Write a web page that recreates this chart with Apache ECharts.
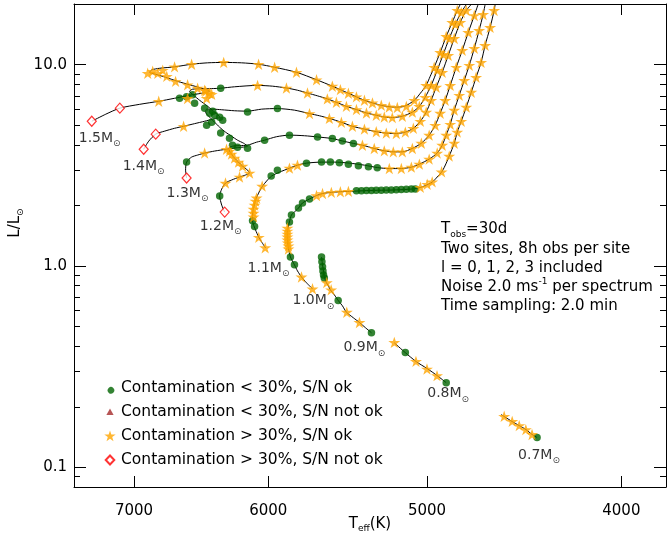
<!DOCTYPE html>
<html><head><meta charset="utf-8">
<script src="https://cdn.jsdelivr.net/npm/echarts@6/dist/echarts.min.js"></script>
<style>html,body{margin:0;padding:0;background:#fff}#c{width:667px;height:537px}</style>
</head><body><div id="c"></div>
<script>
// Values are [log10 Teff (K), log10 L/Lsun]
const massNames = ['0.7','0.8','0.9','1.0','1.1','1.2','1.3','1.4','1.5'];
const track07 = [[3.6441,-0.851],[3.6466,-0.836],[3.6496,-0.812],[3.6530,-0.792],[3.6565,-0.772],[3.6605,-0.747],[3.6620,-0.737]];
const track08 = [[3.6894,-0.579],[3.6939,-0.544],[3.6989,-0.509],[3.7043,-0.475],[3.7098,-0.430],[3.7153,-0.381]];
const track09 = [[3.7267,-0.331],[3.7297,-0.306],[3.7327,-0.280],[3.7357,-0.257],[3.7392,-0.229],[3.7412,-0.197],[3.7432,-0.172],[3.7452,-0.143],[3.7472,-0.118],[3.7482,-0.098],[3.7492,-0.082],[3.7502,-0.054],[3.7506,-0.024],[3.7511,0.006],[3.7516,0.045]];
const track10 = [[3.7561,-0.113],[3.7591,-0.083],[3.7616,-0.054],[3.7636,-0.024],[3.7651,0.006],[3.7671,0.045],[3.7681,0.090],[3.7686,0.130],[3.7686,0.169],[3.7681,0.199],[3.7676,0.219],[3.7666,0.254],[3.7646,0.273],[3.7631,0.288],[3.7611,0.313],[3.7576,0.333],[3.7541,0.350],[3.7511,0.360],[3.7467,0.366],[3.7422,0.369],[3.7377,0.371],[3.7327,0.373],[3.7253,0.376],[3.7178,0.377],[3.7103,0.380],[3.7043,0.385],[3.7004,0.397],[3.6964,0.417],[3.6939,0.442],[3.6914,0.471],[3.6894,0.511],[3.6879,0.546],[3.6854,0.610],[3.6839,0.665],[3.6819,0.719],[3.6794,0.789],[3.6769,0.863],[3.6745,0.937],[3.6720,1.011],[3.6700,1.096],[3.6675,1.185],[3.6655,1.269],[3.6650,1.299]];
const track11 = [[3.7795,0.090],[3.7815,0.120],[3.7830,0.145],[3.7845,0.179],[3.7860,0.224],[3.7860,0.254],[3.7855,0.288],[3.7845,0.328],[3.7825,0.372],[3.7810,0.397],[3.7790,0.422],[3.7765,0.447],[3.7726,0.466],[3.7676,0.486],[3.7636,0.501],[3.7591,0.511],[3.7516,0.516],[3.7452,0.516],[3.7377,0.511],[3.7302,0.501],[3.7238,0.489],[3.7178,0.484],[3.7118,0.484],[3.7068,0.491],[3.7028,0.506],[3.6979,0.531],[3.6939,0.561],[3.6914,0.600],[3.6894,0.650],[3.6874,0.704],[3.6854,0.774],[3.6829,0.848],[3.6804,0.922],[3.6779,0.997],[3.6754,1.081],[3.6730,1.170],[3.6710,1.249],[3.6700,1.299]];
const track12 = [[3.7999,0.268],[3.8014,0.303],[3.8024,0.348],[3.8014,0.382],[3.7995,0.412],[3.7965,0.427],[3.7925,0.442],[3.7895,0.452],[3.7875,0.462],[3.7890,0.481],[3.7910,0.496],[3.7930,0.516],[3.7950,0.536],[3.7965,0.556],[3.7975,0.571],[3.7980,0.585],[3.7960,0.595],[3.7925,0.598],[3.7885,0.600],[3.7840,0.615],[3.7800,0.625],[3.7741,0.642],[3.7676,0.650],[3.7601,0.647],[3.7536,0.641],[3.7462,0.633],[3.7412,0.621],[3.7357,0.609],[3.7312,0.600],[3.7253,0.584],[3.7203,0.572],[3.7158,0.567],[3.7113,0.567],[3.7063,0.584],[3.7018,0.610],[3.6979,0.650],[3.6949,0.699],[3.6924,0.759],[3.6899,0.823],[3.6874,0.897],[3.6844,0.987],[3.6814,1.071],[3.6784,1.160],[3.6754,1.244],[3.6735,1.299]];
const track13 = [[3.8189,0.437],[3.8194,0.476],[3.8189,0.516],[3.8164,0.541],[3.8134,0.551],[3.8099,0.561],[3.8049,0.571],[3.7990,0.580],[3.7935,0.588],[3.7885,0.595],[3.7905,0.610],[3.7935,0.625],[3.7965,0.645],[3.7995,0.665],[3.8024,0.689],[3.8054,0.719],[3.8079,0.744],[3.8094,0.764],[3.8089,0.779],[3.8059,0.779],[3.8014,0.776],[3.7950,0.771],[3.7885,0.769],[3.7815,0.779],[3.7736,0.782],[3.7651,0.774],[3.7576,0.757],[3.7526,0.746],[3.7477,0.733],[3.7417,0.714],[3.7362,0.694],[3.7302,0.680],[3.7243,0.667],[3.7193,0.660],[3.7143,0.658],[3.7098,0.665],[3.7058,0.684],[3.7023,0.719],[3.6994,0.764],[3.6969,0.823],[3.6944,0.888],[3.6914,0.962],[3.6884,1.046],[3.6854,1.130],[3.6824,1.210],[3.6794,1.269],[3.6769,1.299]];
const track14 = [[3.8403,0.580],[3.8378,0.620],[3.8343,0.655],[3.8298,0.670],[3.8249,0.684],[3.8204,0.694],[3.8149,0.707],[3.8099,0.719],[3.8059,0.729],[3.8024,0.739],[3.8049,0.764],[3.8084,0.793],[3.8124,0.823],[3.8154,0.848],[3.8174,0.868],[3.8159,0.878],[3.8114,0.880],[3.8064,0.881],[3.8019,0.883],[3.7950,0.890],[3.7835,0.897],[3.7760,0.893],[3.7691,0.884],[3.7636,0.873],[3.7586,0.859],[3.7536,0.845],[3.7487,0.830],[3.7442,0.813],[3.7392,0.793],[3.7342,0.777],[3.7292,0.760],[3.7243,0.749],[3.7203,0.740],[3.7163,0.737],[3.7113,0.744],[3.7063,0.764],[3.7028,0.793],[3.6999,0.838],[3.6969,0.897],[3.6939,0.972],[3.6909,1.051],[3.6879,1.130],[3.6849,1.200],[3.6819,1.259],[3.6794,1.299]];
const track15 = [[3.8662,0.719],[3.8592,0.754],[3.8522,0.784],[3.8423,0.803],[3.8328,0.818],[3.8249,0.833],[3.8174,0.848],[3.8114,0.858],[3.8074,0.868],[3.8114,0.883],[3.8174,0.900],[3.8234,0.917],[3.8293,0.937],[3.8343,0.952],[3.8373,0.962],[3.8363,0.974],[3.8323,0.982],[3.8249,0.989],[3.8164,1.002],[3.8084,1.009],[3.8004,1.011],[3.7915,1.009],[3.7830,1.002],[3.7750,0.987],[3.7641,0.962],[3.7541,0.925],[3.7462,0.893],[3.7382,0.858],[3.7302,0.823],[3.7218,0.798],[3.7153,0.789],[3.7103,0.793],[3.7053,0.823],[3.7023,0.858],[3.6994,0.897],[3.6974,0.942],[3.6954,0.987],[3.6924,1.061],[3.6894,1.140],[3.6864,1.210],[3.6839,1.269],[3.6824,1.299]];

const greenDots = [[3.6441,-0.851],[3.7098,-0.429],[3.6894,-0.579],[3.7516,0.045],[3.7514,0.021],[3.7511,-0.004],[3.7509,-0.024],[3.7506,-0.044],[3.7502,-0.059],[3.7433,-0.171],[3.7267,-0.331],
[3.7651,0.006],[3.7671,0.045],[3.7676,0.219],[3.7666,0.254],[3.7631,0.288],[3.7611,0.313],[3.7576,0.333],
[3.7342,0.374],[3.7317,0.374],[3.7292,0.375],[3.7267,0.375],[3.7243,0.376],[3.7218,0.376],[3.7193,0.377],[3.7168,0.378],[3.7143,0.379],[3.7118,0.380],[3.7093,0.381],[3.7068,0.382],[3.7048,0.383],
[3.7850,0.196],[3.7860,0.225],[3.7767,0.447],[3.7736,0.476],
[3.7591,0.511],[3.7516,0.516],[3.7472,0.516],[3.7427,0.513],[3.7382,0.506],[3.7332,0.498],[3.7282,0.493],[3.7238,0.488],
[3.8024,0.348],[3.7676,0.650],[3.7536,0.641],[3.7462,0.633],[3.7412,0.621],[3.7357,0.609],
[3.8189,0.516],[3.7885,0.765],[3.7736,0.782],[3.8059,0.769],
[3.8149,0.808],[3.8099,0.784],[3.8074,0.759],[3.8049,0.749],[3.8024,0.739],[3.8009,0.724],[3.8089,0.699],[3.8064,0.714],[3.8019,0.660],[3.7975,0.635],[3.7960,0.600],[3.7935,0.590],[3.7885,0.585],[3.7800,0.625],
[3.8019,0.883],[3.8224,0.833],[3.8189,0.840],[3.8159,0.851]];

const orangeStars = [[3.6605,-0.746],[3.6565,-0.771],[3.6530,-0.792],[3.6497,-0.812],[3.6466,-0.836],
[3.7153,-0.379],[3.7045,-0.473],[3.6990,-0.511],[3.6940,-0.544],
[3.7490,-0.082],[3.7468,-0.118],[3.7390,-0.229],[3.7327,-0.280],
[3.7561,-0.113],[3.7616,-0.054],[3.7686,0.189],[3.7686,0.174],[3.7686,0.159],[3.7686,0.145],[3.7686,0.130],[3.7684,0.115],[3.7681,0.100],[3.7681,0.085],
[3.7541,0.350],[3.7511,0.360],[3.7467,0.366],[3.7422,0.369],[3.7382,0.371],
[3.7023,0.391],[3.6989,0.406],[3.6964,0.418],[3.6917,0.468],[3.6879,0.546],[3.6854,0.610],[3.6839,0.665],[3.6819,0.719],[3.6794,0.789],[3.6769,0.863],[3.6745,0.937],[3.6720,1.011],[3.6700,1.096],[3.6675,1.185],[3.6655,1.269],
[3.7797,0.091],[3.7829,0.143],[3.7855,0.244],[3.7855,0.263],[3.7855,0.283],[3.7850,0.303],[3.7845,0.323],[3.7840,0.338],[3.7812,0.397],[3.7676,0.486],[3.7636,0.501],
[3.7178,0.484],[3.7118,0.484],[3.7068,0.491],[3.7028,0.506],[3.6979,0.531],[3.6939,0.561],[3.6914,0.600],[3.6894,0.650],[3.6874,0.704],[3.6854,0.774],[3.6829,0.848],[3.6804,0.922],[3.6779,0.997],[3.6754,1.081],[3.6730,1.170],[3.6710,1.249],
[3.7995,0.412],[3.7925,0.442],[3.7875,0.462],[3.7910,0.496],[3.7930,0.516],[3.7950,0.536],[3.7965,0.556],[3.7975,0.571],
[3.7312,0.600],[3.7253,0.584],[3.7203,0.572],[3.7158,0.567],[3.7113,0.567],[3.7063,0.584],[3.7018,0.610],[3.6979,0.650],[3.6949,0.699],[3.6924,0.759],[3.6899,0.823],[3.6874,0.897],[3.6844,0.987],[3.6814,1.071],[3.6784,1.160],[3.6754,1.244],
[3.8099,0.561],[3.7990,0.580],
[3.7576,0.757],[3.7477,0.733],[3.7417,0.714],[3.7362,0.694],[3.7302,0.680],[3.7243,0.667],[3.7193,0.660],[3.7143,0.658],[3.7098,0.665],[3.7058,0.684],[3.7023,0.719],[3.6994,0.764],[3.6969,0.823],[3.6944,0.888],[3.6914,0.962],[3.6884,1.046],[3.6854,1.130],[3.6824,1.210],[3.6794,1.269],
[3.8204,0.694],[3.8099,0.873],[3.8074,0.858],
[3.7835,0.897],[3.7691,0.884],[3.7586,0.859],[3.7487,0.830],[3.7442,0.813],[3.7392,0.793],[3.7342,0.777],[3.7292,0.760],[3.7243,0.749],[3.7203,0.740],[3.7163,0.737],[3.7113,0.744],[3.7063,0.764],[3.7028,0.793],[3.6999,0.838],[3.6969,0.897],[3.6939,0.972],[3.6909,1.051],[3.6879,1.130],[3.6849,1.200],[3.6819,1.259],
[3.8328,0.818],[3.8184,0.832],[3.8134,0.883],[3.8094,0.868],[3.8089,0.833],[3.8064,0.853],
[3.8383,0.957],[3.8358,0.967],[3.8333,0.957],[3.8308,0.972],[3.8288,0.942],[3.8244,0.917],[3.8184,0.900],[3.8249,0.989],[3.8164,1.002],[3.8004,1.011],[3.7830,1.002],[3.7750,0.987],[3.7641,0.962],[3.7541,0.925],[3.7462,0.893],[3.7422,0.876],[3.7382,0.858],[3.7342,0.840],[3.7302,0.823],[3.7262,0.810],[3.7218,0.798],[3.7178,0.790],[3.7138,0.787],[3.7093,0.793],[3.7053,0.823],[3.6994,0.897],[3.6954,0.987],[3.6924,1.061],[3.6894,1.140],[3.6864,1.210],[3.6839,1.269]];

const redDiamonds = [[3.8662,0.719],[3.8522,0.784],[3.8403,0.580],[3.8343,0.655],[3.8189,0.437],[3.7999,0.268]];
const brownTriangles = [];

const teffTicks = [4000, 5000, 6000, 7000];
const lumMajorTicks = [0.1, 1, 10];
const lumMinorTicks = [0.09, 0.2, 0.3, 0.4, 0.5, 0.6, 0.7, 0.8, 0.9, 2, 3, 4, 5, 6, 7, 8, 9];
const teffRange = [3800, 7500];
const lumRange = [0.08, 20];
const legendNames = ['Contamination < 30%, S/N ok','Contamination < 30%, S/N not ok','Contamination > 30%, S/N ok','Contamination > 30%, S/N not ok'];

const tracks = [track07, track08, track09, track10, track11, track12, track13, track14, track15];
const FF = 'DejaVu Sans';
const lg = Math.log10;
const tVals = teffTicks.map(lg), lMaj = lumMajorTicks.map(lg), lMin = lumMinorTicks.map(lg);
const xMin = lg(teffRange[0]), xMax = lg(teffRange[1]);
const yMin = lg(lumRange[0]), yMax = lg(lumRange[1]);
const labelOffsets = [[-19,18],[-19,11],[-28,15],[-20,12],[-18,20],[-25,14],[-20,15],[-21,17],[-13,17]];
const STAR = 'path://M50,0 L61.2,34.5 L97.6,34.5 L68.2,55.9 L79.4,90.5 L50,69.1 L20.6,90.5 L31.8,55.9 L2.4,34.5 L38.8,34.5 Z';
// legend icons: invisible corner points keep a common 12x12 frame so each glyph keeps its own size
const ICON_DOT = 'path://M0,0 M12,12 M9.3,6 A3.3,3.3,0,1,1,9.29,5.99 Z';
const ICON_TRI = 'path://M0,0 M12,12 M6,2.5 L9.6,9 L2.4,9 Z';
const ICON_STAR = 'path://M0,0 M12,12 M6,0.4 L7.35,4.55 L11.7,4.55 L8.2,7.1 L9.5,11.2 L6,8.7 L2.5,11.2 L3.8,7.1 L0.3,4.55 L4.65,4.55 Z';
const ICON_DIA = 'path://M0,0 M12,12 M6,1.5 L10.3,6 L6,10.5 L1.7,6 Z';
const axLine = {show:true, onZero:false, lineStyle:{color:'#000', width:1}};
const massRich = {m:{fontSize:14, fontFamily:FF, color:'#000', lineHeight:20}, s:{fontSize:9, fontFamily:FF, color:'#000', lineHeight:20, verticalAlign:'bottom'}};

function xAx(pos, labels){
  return {type:'value', position:pos, min:xMin, max:xMax, inverse:true, axisLine:axLine,
    axisTick:{show:true, inside:true, length:11, customValues:tVals, lineStyle:{color:'#000'}},
    axisLabel:{show:labels, customValues:tVals, margin:17, color:'#000', fontSize:15, fontFamily:FF,
      formatter:v=>String(Math.round(Math.pow(10,v)))},
    splitLine:{show:false},
    name: labels ? '{a|T}{b|eff}{a|(K)}' : '', nameLocation:'middle', nameGap:28, nameMoveOverlap:false,
    nameTextStyle:{rich:{a:{fontSize:15, fontFamily:FF, color:'#000', lineHeight:18}, b:{fontSize:9, fontFamily:FF, color:'#000', lineHeight:18, verticalAlign:'bottom'}}}};
}
function yAx(pos, vals, len, labels, line){
  return {type:'value', position:pos, min:yMin, max:yMax, axisLine: line ? axLine : {show:false},
    axisTick:{show:true, inside:true, length:len, customValues:vals, lineStyle:{color:'#000'}},
    axisLabel:{show:labels, customValues:vals, margin:7, color:'#000', fontSize:15, fontFamily:FF,
      formatter:v=>Math.pow(10,v).toFixed(1)},
    splitLine:{show:false}};
}

const series = [];
tracks.forEach((t,i)=>series.push({type:'line', name:'track'+massNames[i], data:t, symbol:'none', smooth:0.25, silent:true,
  lineStyle:{color:'#000', width:1}, z:1, xAxisIndex:0, yAxisIndex:0}));
series.push({type:'scatter', name:legendNames[0], data:greenDots, symbol:'circle', symbolSize:7.5, itemStyle:{color:'#006400'}, z:3});
series.push({type:'scatter', name:legendNames[1], data:brownTriangles, symbol:'triangle', symbolSize:8, itemStyle:{color:'#a52a2a'}, z:3});
series.push({type:'scatter', name:legendNames[2], data:orangeStars, symbol:STAR, symbolKeepAspect:true, symbolSize:12, itemStyle:{color:'#ffa500'}, z:4});
series.push({type:'scatter', name:legendNames[3], data:redDiamonds, symbol:'diamond', symbolSize:[9,10], itemStyle:{color:'#fff', borderColor:'#ff0000', borderWidth:1.2}, z:5});
series.push({type:'scatter', name:'massLabels', symbolSize:0, silent:true, z:6,
  data: tracks.map((t,i)=>({value:t[0], label:{show:true, position:'inside', align:'left', verticalAlign:'middle',
    offset:labelOffsets[i], formatter:'{m|'+massNames[i]+'M}{s|\u2299}', rich:massRich}}))});

const infoRich = {a:{fontSize:15, fontFamily:FF, fill:'#000', lineHeight:20}, b:{fontSize:9, fontFamily:FF, fill:'#000', lineHeight:20, verticalAlign:'bottom'}, c:{fontSize:9, fontFamily:FF, fill:'#000', lineHeight:20, verticalAlign:'top'}};
const infoLines = ['{a|T}{b|obs}{a|=30d}', '{a|Two sites, 8h obs per site}', '{a|l = 0, 1, 2, 3 included}', '{a|Noise 2.0 ms}{c|-1}{a| per spectrum}', '{a|Time sampling: 2.0 min}'];
const infoY = [229, 249, 268, 287, 306];
const graphic = infoLines.map((s,i)=>({type:'text', x:441, y:infoY[i], z:10,
  style:{text:s, rich:infoRich, align:'left', verticalAlign:'middle'}}));
graphic.push({type:'text', x:15, y:223, rotation:Math.PI/2, z:10,
  style:{text:'{a|L/L}{s|\u2299}', align:'center', verticalAlign:'middle',
    rich:{a:{fontSize:15, fontFamily:FF, fill:'#000', lineHeight:20}, s:{fontSize:9, fontFamily:FF, fill:'#000', lineHeight:20, verticalAlign:'bottom'}}}});

const option = {
  animation:false, backgroundColor:'#fff',
  grid:{left:74, right:1, top:4, bottom:50, containLabel:false, outerBoundsMode:'none'},
  xAxis:[xAx('bottom', true), xAx('top', false)],
  yAxis:[yAx('left', lMaj, 12, true, true), yAx('left', lMin, 6, false, false), yAx('right', lMaj, 12, false, true), yAx('right', lMin, 6, false, false)],
  legend:{data:[{name:legendNames[0], icon:ICON_DOT},{name:legendNames[1], icon:ICON_TRI},{name:legendNames[2], icon:ICON_STAR},{name:legendNames[3], icon:ICON_DIA}],
    orient:'vertical', left:98, top:375, itemWidth:12, itemHeight:12, itemGap:8,
    textStyle:{fontSize:15.5, fontFamily:FF, color:'#000'}},
  series, graphic
};
const chart = echarts.init(document.getElementById('c'));
chart.setOption(option);
</script></body></html>
